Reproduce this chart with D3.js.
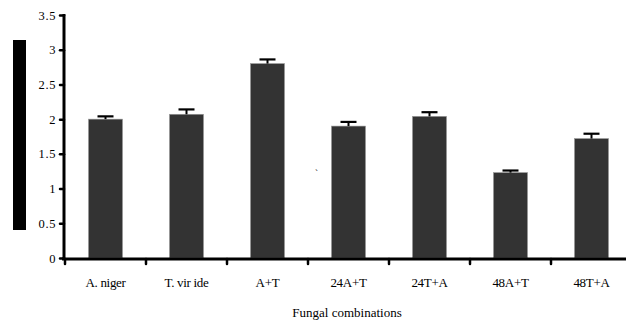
<!DOCTYPE html>
<html lang="en">
	<head>
		<meta charset="utf-8">
		<title>Fungal combinations</title>
		<script type="text/javascript" src="https://cdn.jsdelivr.net/npm/d3@7"></script>
		<style type="text/css">
			body { margin: 0; background: #fff; }
			text { font-family: "Liberation Serif", "Times New Roman", serif; }
		</style>
	</head>
	<body>
		<script type="text/javascript">

			var width = 626;
			var height = 320;

			// data
			var categories = ["A. niger", "T. vir ide", "A+T", "24A+T", "24T+A", "48A+T", "48T+A"];
			var values = [2.00, 2.07, 2.80, 1.90, 2.04, 1.23, 1.72];
			var errors = [0.04, 0.07, 0.06, 0.06, 0.06, 0.03, 0.07];
			var yTicks = [0, 0.5, 1, 1.5, 2, 2.5, 3, 3.5];

			var svg = d3.select("body")
						.append("svg")
						.attr("width", width)
						.attr("height", height);

			var xScale = d3.scaleBand()
					.domain(categories)
					.range([65, 632])
					.paddingInner(0.58)
					.paddingOuter(0.29);

			var yScale = d3.scaleLinear()
					.domain([0, 3.5])
					.range([258, 15]);

			// black box where the y title is
			svg.append("rect")
				.attr("x", 13).attr("y", 40)
				.attr("width", 13).attr("height", 190)
				.attr("fill", "#000");

			// bars
			svg.selectAll("rect.bar").data(values).enter()
				.append("rect")
				.attr("class", "bar")
				.attr("x", function(d, i){ return xScale(categories[i]); })
				.attr("y", function(d){ return yScale(d); })
				.attr("width", xScale.bandwidth())
				.attr("height", function(d){ return yScale(0) - yScale(d); })
				.attr("fill", "#333")
				.attr("stroke", "#999")
				.attr("stroke-width", 0.6);

			// error bars
			var eb = svg.selectAll("g.err").data(values).enter()
				.append("g").attr("class", "err");
			eb.append("line")
				.attr("x1", function(d, i){ return xScale(categories[i]) + xScale.bandwidth()/2; })
				.attr("x2", function(d, i){ return xScale(categories[i]) + xScale.bandwidth()/2; })
				.attr("y1", function(d){ return yScale(d); })
				.attr("y2", function(d, i){ return yScale(d + errors[i]); })
				.attr("stroke", "#000").attr("stroke-width", 2);
			eb.append("line")
				.attr("x1", function(d, i){ return xScale(categories[i]) + xScale.bandwidth()/2 - 8; })
				.attr("x2", function(d, i){ return xScale(categories[i]) + xScale.bandwidth()/2 + 8; })
				.attr("y1", function(d, i){ return yScale(d + errors[i]); })
				.attr("y2", function(d, i){ return yScale(d + errors[i]); })
				.attr("stroke", "#000").attr("stroke-width", 2.2);

			// y axis
			var yAxis = svg.append("g")
				.attr("transform", "translate(64,0)")
				.call(d3.axisLeft(yScale).tickValues(yTicks).tickSize(4).tickPadding(4)
					.tickFormat(function(d){ return d; }));
			yAxis.select(".domain").attr("stroke-width", 3).attr("d", "M0,14V259");
			yAxis.selectAll(".tick line").attr("stroke-width", 2.5).attr("stroke-linecap", "round");
			yAxis.selectAll(".tick text")
				.attr("font-size", 12.5).attr("fill", "#000")
				.attr("letter-spacing", 0.6)
				.attr("font-family", "Liberation Serif, serif");

			// x axis with ticks at band edges
			var xAxis = svg.append("g").attr("transform", "translate(0,259)");
			xAxis.append("line")
				.attr("x1", 62).attr("x2", width)
				.attr("stroke", "#000").attr("stroke-width", 3);
			var edges = categories.map(function(c){ return xScale(c) - xScale.step() * xScale.paddingInner() / 2; });
			edges.push(xScale(categories[categories.length-1]) + xScale.bandwidth() + xScale.step() * xScale.paddingInner() / 2);
			xAxis.selectAll("line.tk").data(edges).enter()
				.append("line").attr("class", "tk")
				.attr("x1", function(d){ return d; }).attr("x2", function(d){ return d; })
				.attr("y1", 0).attr("y2", 5)
				.attr("stroke", "#000").attr("stroke-width", 2.5).attr("stroke-linecap", "round");
			xAxis.selectAll("text").data(categories).enter()
				.append("text")
				.attr("x", function(d){ return xScale(d) + xScale.bandwidth()/2; })
				.attr("y", 28)
				.attr("text-anchor", "middle")
				.attr("font-size", 13)
				.attr("letter-spacing", -0.3)
				.text(function(d){ return d; });

			// x title
			svg.append("text")
				.attr("x", 347).attr("y", 317)
				.attr("text-anchor", "middle")
				.attr("font-size", 13)
				.text("Fungal combinations");

			// stray mark
			svg.append("text")
				.attr("x", 315).attr("y", 176)
				.attr("font-size", 9)
				.text("`");

		</script>
	</body>
</html>
